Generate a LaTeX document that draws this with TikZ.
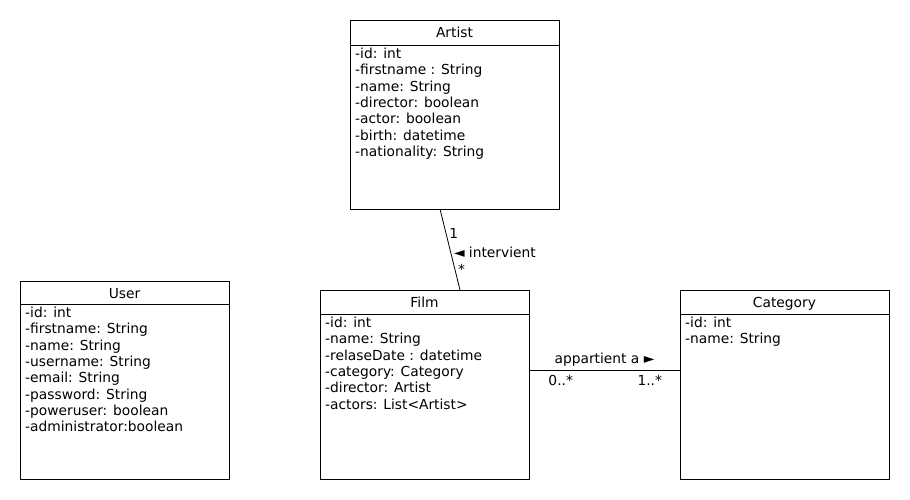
\documentclass[tikz,border=0pt]{standalone}
\usepackage{fontspec}
\setmainfont{DejaVu Sans}
\usetikzlibrary{positioning}
\begin{document}
\begin{tikzpicture}[x=1pt,y=-1pt]

    \tikzset{
      classhead/.style={
        draw,
        line width=0.8pt,
        outer sep=0pt,
        anchor=north west,
        inner sep=0pt,
        minimum width=209pt,
        minimum height=24pt,
        text height=12pt,
        text depth=1pt,
        font=\fontsize{13.8}{16}\selectfont,
      },
      classbody/.style={
        draw,
        line width=0.8pt,
        outer sep=0pt,
        inner sep=0pt,
        minimum width=209pt,
        below=0pt of #1,
      },
      attrs/.style={
        align=left,
        inner sep=0pt,
        font=\fontsize{13.8}{16.3}\selectfont,
      },
      mult/.style={
        inner sep=0pt,
        font=\fontsize{13.8}{16}\selectfont,
      },
    }
    \useasboundingbox (0,0) rectangle (910,500);

	\node[classhead, minimum height=25pt] (artisthead) at (350,20) {Artist};
	\node[classbody=artisthead, minimum height=164pt] (artist) {};
	\node[attrs, below right=3pt and 5pt of artist.north west] (artistattrs) {-id: int\\-firstname : String\\-name: String\\-director: boolean\\-actor: boolean\\-birth: datetime\\-nationality: String};

	\node[classhead, minimum height=23pt] (userhead) at (20,281) {User};
	\node[classbody=userhead, minimum height=175pt] (user) {};
	\node[attrs, below right=3pt and 5pt of user.north west] (userattrs) {-id: int\\-firstname: String\\-name: String\\-username: String\\-email: String\\-password: String\\-poweruser: boolean\\-administrator:boolean};

	\node[classhead] (filmhead) at (320,290) {Film};
	\node[classbody=filmhead, minimum height=165pt] (film) {};
	\node[attrs, below right=3pt and 5pt of film.north west] (filmattrs) {-id: int\\-name: String\\-relaseDate : datetime\\-category: Category\\-director: Artist\\-actors: List<Artist>};

	\node[classhead] (categoryhead) at (680,290) {Category};
	\node[classbody=categoryhead, minimum height=165pt] (category) {};
	\node[attrs, below right=3pt and 5pt of category.north west] (categoryattrs) {-id: int\\-name: String};

	\draw[line width=0.8pt] ([xshift=-14.5pt]artist.south) -- ([xshift=35.5pt]filmhead.north)
		node[mult, pos=0.3, anchor=west, xshift=3pt] {1}
		node[mult, pos=0.53, anchor=west, xshift=3pt] {◄ intervient}
		node[mult, pos=0.74, anchor=west, xshift=3pt] {*};
	\draw[line width=0.8pt] ([yshift=26.5pt]film.east) -- ([yshift=26.5pt]category.west)
		node[mult, midway, above=3pt] {appartient a ►}
		node[mult, pos=0.21, below=5pt] {0..*}
		node[mult, pos=0.8, below=5pt] {1..*};

\end{tikzpicture}
\end{document}
